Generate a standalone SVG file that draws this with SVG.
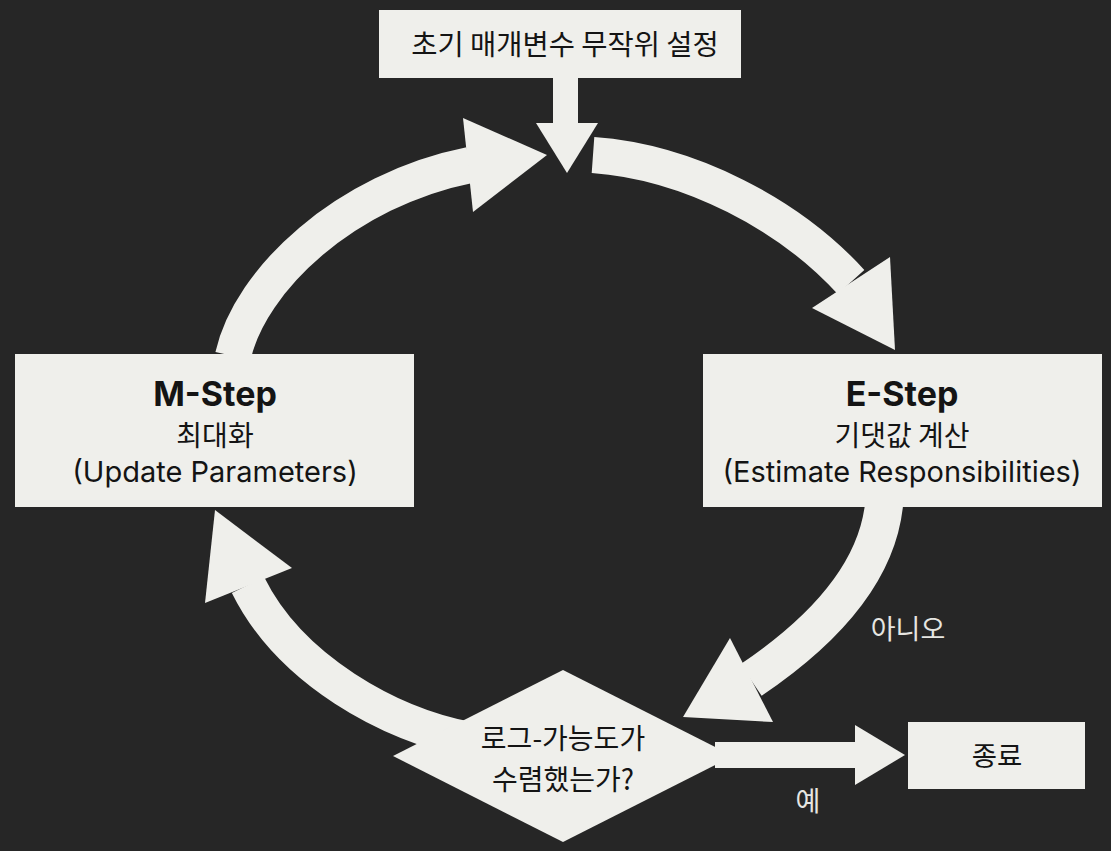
<svg xmlns="http://www.w3.org/2000/svg" width="1111" height="851" viewBox="0 0 1111 851">
  <style>
    .bg { fill: #262626; }
    .shape { fill: #efefeb; }
    .shaft { fill: none; stroke: #efefeb; stroke-linecap: butt; }
    .t { font-family: Inter, "Noto Sans CJK KR", sans-serif; fill: #141414; text-anchor: middle; }
    .ko { font-family: "Noto Sans CJK KR", sans-serif; fill: #141414; text-anchor: middle; }
    .bold { font-weight: 700; }
    .lbl { font-family: "Noto Sans CJK KR", sans-serif; fill: #e6e6e2; text-anchor: middle; font-size: 27px; }
  </style>
  <rect class="bg" x="0" y="0" width="1111" height="851"/>

  <g id="connectors">
    <!-- init -> loop -->
    <rect class="shape" x="553" y="76" width="25" height="49"/>
    <polygon class="shape" points="536,123 598,123 567,173"/>
    <!-- M-Step -> top -->
    <path class="shaft" stroke-width="36" d="M 233 356 C 250 280, 345 190, 470 165"/>
    <polygon class="shape" points="463,118 547,155 473,212"/>
    <!-- top -> E-Step -->
    <path class="shaft" stroke-width="36" d="M 593 155 C 690 162, 790 215, 851 282"/>
    <polygon class="shape" points="890,257 895,350 812,308"/>
    <!-- E-Step -> decision (아니오) -->
    <path class="shaft" stroke-width="38" d="M 884 505 C 878 560, 840 620, 751 680"/>
    <polygon class="shape" points="730,638 773,722 683,717"/>
    <!-- decision -> M-Step -->
    <path class="shaft" stroke-width="36" d="M 470 740 C 390 725, 290 670, 248 585"/>
    <polygon class="shape" points="215,510 292,568 205,603"/>
    <!-- decision -> end (예) -->
    <rect class="shape" x="715" y="742" width="142" height="26"/>
    <polygon class="shape" points="855,725 905,755 855,785"/>
  </g>

  <g id="node-init">
    <rect class="shape" x="379" y="10" width="362" height="68"/>
    <text class="ko" x="565" y="55" font-size="28.5">초기 매개변수 무작위 설정</text>
  </g>

  <g id="node-mstep">
    <rect class="shape" x="15" y="354" width="399" height="153"/>
    <text class="t bold" x="215" y="406" font-size="34">M-Step</text>
    <text class="ko" x="215" y="446" font-size="28">최대화</text>
    <text class="t" x="215" y="482" font-size="29">(Update Parameters)</text>
  </g>

  <g id="node-estep">
    <rect class="shape" x="703" y="354" width="399" height="153"/>
    <text class="t bold" x="902" y="406" font-size="34">E-Step</text>
    <text class="ko" x="902" y="446" font-size="28">기댓값 계산</text>
    <text class="t" x="902" y="482" font-size="29">(Estimate Responsibilities)</text>
  </g>

  <g id="node-decision">
    <polygon class="shape" points="563,670 733,756 563,842 393,756"/>
    <text class="ko" x="563" y="749" font-size="28">로그-가능도가</text>
    <text class="ko" x="563" y="790" font-size="28">수렴했는가?</text>
  </g>

  <g id="node-end">
    <rect class="shape" x="908" y="722" width="177" height="67"/>
    <text class="ko" x="997" y="766" font-size="27.5">종료</text>
  </g>

  <g id="labels">
    <text class="lbl" x="908" y="639">아니오</text>
    <text class="lbl" x="808" y="811">예</text>
  </g>
</svg>
